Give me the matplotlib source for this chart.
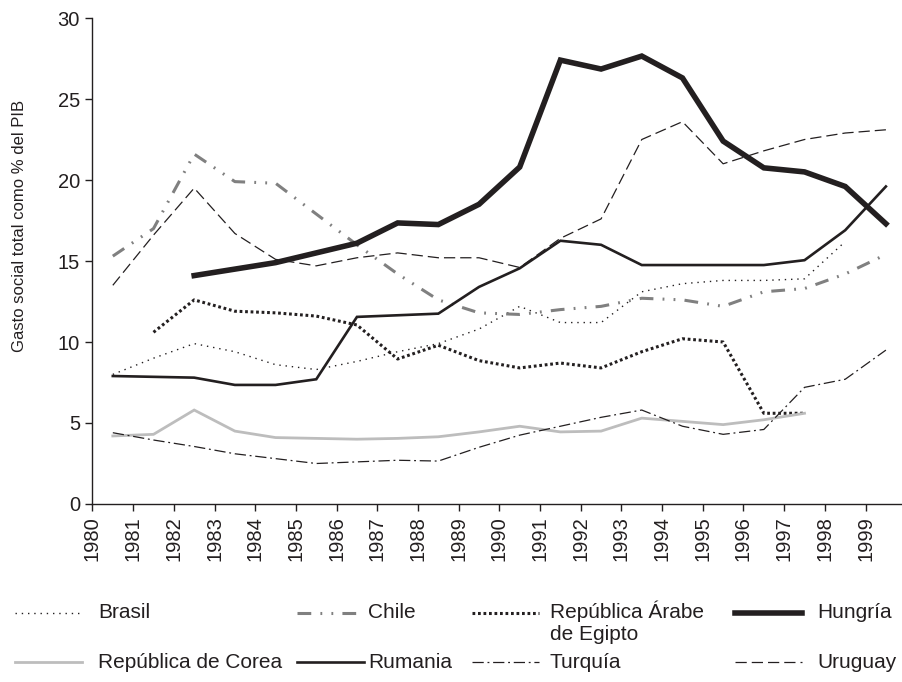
import numpy as np
import matplotlib
matplotlib.use("Agg")
import matplotlib.pyplot as plt
from matplotlib.lines import Line2D

plt.rcParams['font.family'] = ['Liberation Sans', 'DejaVu Sans']

nan = np.nan
years = list(range(1980, 2000))
year_labels = [str(y) for y in years]

brasil = [8.0, 9.0, 9.9, 9.4, 8.6, 8.3, 8.8, 9.4, 9.9, 10.8, 12.2, 11.2, 11.2, 13.1, 13.6, 13.8, 13.8, 13.9, 16.2, nan]
chile = [15.3, 17.0, 21.6, 19.9, 19.8, 17.9, 16.0, 14.2, 12.6, 11.8, 11.7, 12.0, 12.2, 12.7, 12.6, 12.2, 13.1, 13.3, 14.2, 15.4]
egipto = [nan, 10.6, 12.6, 11.9, 11.8, 11.6, 11.05, 8.95, 9.8, 8.85, 8.4, 8.7, 8.4, 9.4, 10.2, 10.0, 5.6, 5.6, nan, nan]
hungria = [nan, nan, 14.1, 14.5, 14.9, 15.5, 16.1, 17.35, 17.25, 18.5, 20.8, 27.4, 26.85, 27.65, 26.3, 22.4, 20.75, 20.5, 19.6, 17.3]
corea = [4.2, 4.3, 5.8, 4.5, 4.1, 4.05, 4.0, 4.05, 4.15, 4.45, 4.8, 4.45, 4.5, 5.3, 5.1, 4.9, 5.2, 5.6, nan, nan]
rumania = [7.9, 7.85, 7.8, 7.35, 7.35, 7.7, 11.55, 11.65, 11.75, 13.4, 14.55, 16.25, 16.0, 14.75, 14.75, 14.75, 14.75, 15.05, 16.9, 19.6]
turquia = [4.4, 3.95, 3.55, 3.1, 2.8, 2.5, 2.6, 2.7, 2.65, 3.5, 4.25, 4.8, 5.35, 5.8, 4.8, 4.3, 4.6, 7.2, 7.7, 9.5]
uruguay = [13.5, 16.6, 19.5, 16.7, 15.1, 14.7, 15.2, 15.5, 15.2, 15.2, 14.6, 16.4, 17.6, 22.5, 23.6, 21.0, 21.8, 22.5, 22.9, 23.1]

labels = ['Brasil', 'Chile', 'República Árabe\nde Egipto', 'Hungría',
          'República de Corea', 'Rumania', 'Turquía', 'Uruguay']
series = [brasil, chile, egipto, hungria, corea, rumania, turquia, uruguay]

ink = '#231f20'
styles = [
    dict(color=ink, lw=1.0, ls=(0, (1, 3.5))),
    dict(color='#808080', lw=2.2, ls=(0, (4.5, 3, 0.6, 3, 0.6, 3))),
    dict(color=ink, lw=2.2, ls=(0, (0.9, 0.9))),
    dict(color=ink, lw=4.0, ls='-'),
    dict(color='#bdbdbd', lw=2.0, ls='-'),
    dict(color=ink, lw=1.9, ls='-'),
    dict(color=ink, lw=0.9, ls=(0, (9, 3, 1.5, 3))),
    dict(color=ink, lw=0.9, ls=(0, (9, 4))),
]

fig = plt.figure(figsize=(9.03, 6.82), dpi=100)
ax = fig.add_axes([0.1024, 0.2610, 0.9012, 0.7126])

x = np.array(years) + 0.5
for vals, st in zip(series, styles):
    ax.plot(x, vals, color=st['color'], linewidth=st['lw'], linestyle=st['ls'],
            solid_joinstyle='miter', clip_on=False)

ax.set_xlim(1980, 2000)
ax.set_ylim(0, 30)
ax.set_xticks(years)
ax.set_xticklabels(year_labels, rotation=90)
ax.set_yticks(range(0, 31, 5))
ax.tick_params(axis='both', direction='out', length=5, width=1, colors=ink,
               labelsize=14.5)
ax.tick_params(axis='x', pad=3.5)
ax.tick_params(axis='y', pad=4)
for side in ['top', 'right']:
    ax.spines[side].set_visible(False)
for side in ['left', 'bottom']:
    ax.spines[side].set_color(ink)
    ax.spines[side].set_linewidth(1.0)
ax.set_ylabel('Gasto social total como % del PIB', fontsize=12, color=ink)
ax.yaxis.set_label_coords(-0.08, 0.572)

# legend drawn by hand so the rows line up like the original
W, H = 903.0, 682.0
handle_x = [15, 297, 472, 735]
text_x = [98, 368, 550, 817]
row_y = [613, 662]
for i, (lab, st) in enumerate(zip(labels, styles)):
    col, row = i % 4, i // 4
    y = 1 - row_y[row] / H
    x0 = handle_x[col] / W
    x1 = (handle_x[col] + 67) / W
    fig.add_artist(Line2D([x0, x1], [y, y], transform=fig.transFigure,
                          color=st['color'], linewidth=st['lw'], linestyle=st['ls']))
    if '\n' in lab:
        fig.text(text_x[col] / W, 1 - (row_y[row] - 12) / H, lab, fontsize=15,
                 color=ink, ha='left', va='top', linespacing=1.2)
    else:
        fig.text(text_x[col] / W, y, lab, fontsize=15, color=ink,
                 ha='left', va='center')

fig.savefig('out.png', dpi=100)
